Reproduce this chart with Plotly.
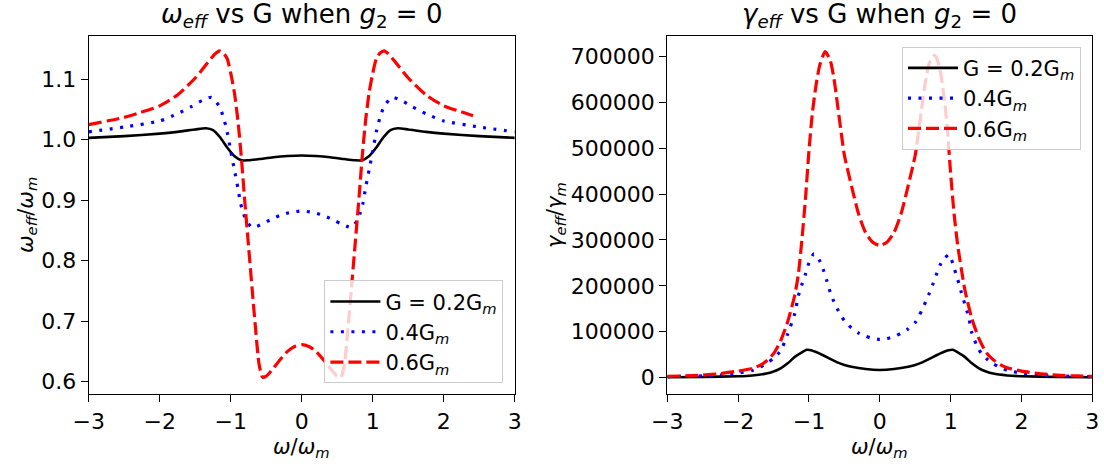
import plotly.graph_objects as go

# ---------------- left panel: omega_eff / omega_m ----------------
x_w_black = [-3.0, -2.5, -2.0, -1.75, -1.5, -1.35, -1.25, -1.15, -1.05, -0.95, -0.85, -0.75,
             -0.6, -0.4, -0.2, 0.0, 0.2, 0.4, 0.6, 0.75, 0.85, 0.95, 1.05, 1.15, 1.25, 1.35,
             1.5, 1.75, 2.0, 2.5, 3.0]
w_black = [1.003, 1.006, 1.010, 1.013, 1.017, 1.019, 1.016, 1.004, 0.987, 0.973, 0.966, 0.966,
           0.968, 0.971, 0.973, 0.974, 0.973, 0.971, 0.968, 0.966, 0.966, 0.973, 0.987, 1.004,
           1.016, 1.019, 1.017, 1.013, 1.010, 1.006, 1.003]

x_w_blue = [-3.0, -2.5, -2.0, -1.75, -1.55, -1.4, -1.27, -1.16, -1.1, -1.05, -1.0, -0.95, -0.9,
            -0.86, -0.82, -0.78, -0.7, -0.63, -0.55, -0.45, -0.3, -0.15, 0.0, 0.15, 0.3, 0.45,
            0.55, 0.63, 0.7, 0.78, 0.82, 0.86, 0.9, 0.95, 1.0, 1.05, 1.1, 1.16, 1.27, 1.4, 1.55,
            1.75, 2.0, 2.5, 3.0]
w_blue = [1.013, 1.021, 1.031, 1.043, 1.055, 1.065, 1.070, 1.055, 1.036, 1.013, 0.981, 0.951,
          0.921, 0.894, 0.878, 0.866, 0.855, 0.857, 0.861, 0.867, 0.875, 0.880, 0.882, 0.880,
          0.875, 0.867, 0.861, 0.857, 0.855, 0.866, 0.878, 0.894, 0.921, 0.951, 0.981, 1.013,
          1.036, 1.055, 1.070, 1.065, 1.055, 1.043, 1.031, 1.021, 1.013]

x_w_red = [-3.0, -2.5, -2.3, -2.0, -1.75, -1.5, -1.28, -1.22, -1.16, -1.1, -1.05, -1.0, -0.95,
           -0.9, -0.85, -0.8, -0.75, -0.7, -0.65, -0.6, -0.55, -0.5, -0.4, -0.3, -0.2, -0.1, 0.0,
           0.1, 0.2, 0.3, 0.4, 0.5, 0.55, 0.6, 0.65, 0.7, 0.75, 0.8, 0.85, 0.9, 0.95, 1.0, 1.05,
           1.1, 1.16, 1.22, 1.28, 1.5, 1.75, 2.0, 2.3, 2.48]
w_red = [1.025, 1.037, 1.044, 1.056, 1.074, 1.102, 1.134, 1.142, 1.147, 1.143, 1.134, 1.110,
         1.079, 1.033, 0.970, 0.895, 0.825, 0.755, 0.687, 0.628, 0.607, 0.609, 0.622, 0.637,
         0.650, 0.658, 0.661, 0.658, 0.650, 0.637, 0.622, 0.609, 0.607, 0.628, 0.687, 0.755,
         0.825, 0.895, 0.970, 1.033, 1.079, 1.110, 1.134, 1.143, 1.147, 1.142, 1.134, 1.102,
         1.074, 1.056, 1.044, 1.037]

# ---------------- right panel: gamma_eff / gamma_m ----------------
x_g_black = [-3.0, -2.5, -2.0, -1.8, -1.6, -1.5, -1.4, -1.3, -1.2, -1.1, -1.03, -0.97, -0.9,
             -0.8, -0.7, -0.6, -0.5, -0.4, -0.2, 0.0, 0.2, 0.4, 0.5, 0.6, 0.7, 0.8, 0.9, 0.97,
             1.03, 1.1, 1.2, 1.3, 1.4, 1.5, 1.6, 1.8, 2.0, 2.5, 3.0]
g_black = [600, 1200, 2700, 4500, 8500, 13000, 20000, 31000, 45000, 55000, 60500, 59500, 55500,
           48500, 40500, 33000, 27500, 23500, 18500, 16500, 18500, 23500, 27500, 33000, 40500,
           48500, 55500, 59500, 60500, 55000, 45000, 31000, 20000, 13000, 8500, 4500, 2700,
           1200, 600]

x_g_blue = [-3.0, -2.75, -2.5, -2.25, -2.0, -1.8, -1.7, -1.6, -1.5, -1.4, -1.3, -1.2, -1.15,
            -1.1, -1.05, -1.0, -0.93, -0.85, -0.8, -0.75, -0.7, -0.65, -0.6, -0.55, -0.5, -0.4,
            -0.3, -0.2, -0.1, 0.0, 0.1, 0.2, 0.3, 0.4, 0.5, 0.55, 0.6, 0.65, 0.7, 0.75, 0.8,
            0.85, 0.9, 0.98, 1.05, 1.1, 1.15, 1.2, 1.25, 1.3, 1.4, 1.5, 1.6, 1.7, 1.8, 2.0,
            2.25, 2.5, 2.75, 3.0]
g_blue = [1800, 2500, 3500, 5500, 9500, 15500, 22000, 30000, 42000, 58000, 95000, 140000,
          178000, 203000, 225000, 250000, 270000, 255000, 236000, 212000, 186000, 166000,
          150000, 136000, 124000, 108000, 97000, 90000, 85000, 83000, 85000, 89000, 97000,
          106000, 120000, 133000, 149000, 166000, 184000, 204000, 225000, 245000, 258000,
          268000, 238000, 214000, 186000, 160000, 135000, 97000, 60000, 42000, 30000, 22000,
          15500, 9500, 5500, 3500, 2500, 1800]

x_g_red = [-3.0, -2.75, -2.5, -2.25, -2.0, -1.8, -1.7, -1.6, -1.5, -1.4, -1.3, -1.2, -1.15,
           -1.1, -1.05, -1.0, -0.95, -0.9, -0.85, -0.8, -0.77, -0.7, -0.65, -0.6, -0.55, -0.5,
           -0.4, -0.3, -0.2, -0.1, 0.0, 0.1, 0.2, 0.3, 0.4, 0.5, 0.55, 0.6, 0.65, 0.7, 0.77,
           0.8, 0.85, 0.9, 0.95, 1.0, 1.05, 1.1, 1.15, 1.2, 1.3, 1.4, 1.5, 1.6, 1.7, 1.8, 2.0,
           2.25, 2.5, 2.75, 3.0]
g_red = [2500, 3500, 5200, 8500, 14000, 20000, 26000, 36000, 52000, 80000, 122000, 180000,
         225000, 300000, 389000, 495000, 580000, 638000, 680000, 703000, 711000, 692000, 655000,
         599000, 540000, 485000, 418000, 357000, 316000, 295000, 288000, 295000, 316000, 357000,
         418000, 485000, 540000, 597000, 650000, 686000, 703000, 698000, 672000, 620000, 550000,
         445000, 355000, 288000, 238000, 192000, 128000, 85000, 55000, 39000, 28000, 21000,
         14000, 8500, 5200, 3500, 2500]

legend_labels = ["G = 0.2G<sub><i>m</i></sub>", "0.4G<sub><i>m</i></sub>", "0.6G<sub><i>m</i></sub>"]
x_ticks = [-3, -2, -1, 0, 1, 2, 3]
w_ticks = [0.6, 0.7, 0.8, 0.9, 1.0, 1.1]
g_ticks = [0, 100000, 200000, 300000, 400000, 500000, 600000, 700000]

# ---------------- figure ----------------
W, H = 1104, 468
FONT = "DejaVu Sans"
FS = 21
FS_TICK = 22

styles = [
    dict(color="#000000", width=2.6, dash="solid"),
    dict(color="#0000ff", width=3.2, dash="3px,7.5px"),
    dict(color="#ff0000", width=3.2, dash="13px,5px"),
]

fig = go.Figure()

left_sets = [(x_w_black, w_black), (x_w_blue, w_blue), (x_w_red, w_red)]
right_sets = [(x_g_black, g_black), (x_g_blue, g_blue), (x_g_red, g_red)]

for (xs, ys), st, lab in zip(left_sets, styles, legend_labels):
    fig.add_trace(go.Scatter(x=xs, y=ys, mode="lines", name=lab,
                             line=dict(color=st["color"], width=st["width"], dash=st["dash"],
                                       shape="spline", smoothing=0.6),
                             xaxis="x", yaxis="y", legend="legend"))

for (xs, ys), st, lab in zip(right_sets, styles, legend_labels):
    fig.add_trace(go.Scatter(x=xs, y=ys, mode="lines", name=lab,
                             line=dict(color=st["color"], width=st["width"], dash=st["dash"],
                                       shape="spline", smoothing=0.6),
                             xaxis="x2", yaxis="y2", legend="legend2"))

axis_common = dict(showline=True, linecolor="black", linewidth=1.3, mirror=True,
                   ticks="outside", ticklen=7, tickwidth=1.3, tickcolor="black",
                   showgrid=False, zeroline=False, automargin=False,
                   tickfont=dict(family=FONT, size=FS_TICK, color="black"))

left_dom = [88.7 / W, 514.8 / W]
right_dom = [667.3 / W, 1092.3 / W]
y_dom = [1 - 394 / H, 1 - 36 / H]

legend_common = dict(bgcolor="rgba(255,255,255,0.8)", bordercolor="#cccccc", borderwidth=1,
                     font=dict(family=FONT, size=FS, color="black"), itemwidth=50,
                     tracegroupgap=0)

fig.update_layout(
    width=W, height=H,
    margin=dict(l=0, r=0, t=0, b=0, autoexpand=False),
    paper_bgcolor="white", plot_bgcolor="white",
    font=dict(family=FONT, size=FS, color="black"),
    xaxis=dict(domain=left_dom, range=[-3, 3], tickvals=x_ticks, anchor="y", **axis_common),
    yaxis=dict(domain=y_dom, range=[0.5795, 1.1715], tickvals=w_ticks, tickformat=".1f",
               anchor="x", **axis_common),
    xaxis2=dict(domain=right_dom, range=[-3, 3], tickvals=x_ticks, anchor="y2", **axis_common),
    yaxis2=dict(domain=y_dom, range=[-36000, 745000], tickvals=g_ticks, tickformat="d",
                anchor="x2", **axis_common),
    legend=dict(x=503.4 / W, xanchor="right", y=1 - 383.3 / H, yanchor="bottom",
                **legend_common),
    legend2=dict(x=1081 / W, xanchor="right", y=1 - 46.7 / H, yanchor="top",
                 **legend_common),
    showlegend=True,
)

titles = [
    ("<i>ω</i><sub><i>eff</i></sub> vs G when <i>g</i><sub>2</sub> = 0", sum(left_dom) / 2),
    ("<i>γ</i><sub><i>eff</i></sub> vs G when <i>g</i><sub>2</sub> = 0", sum(right_dom) / 2),
]
for txt, xc in titles:
    fig.add_annotation(text=txt, x=xc, y=1 - 16 / H, xref="paper", yref="paper",
                       xanchor="center", yanchor="middle", showarrow=False,
                       font=dict(family=FONT, size=26, color="black"))

for xc in (sum(left_dom) / 2, sum(right_dom) / 2):
    fig.add_annotation(text="<i>ω</i>/<i>ω</i><sub><i>m</i></sub>", x=xc, y=1 - 448 / H,
                       xref="paper", yref="paper", xanchor="center", yanchor="middle",
                       showarrow=False, font=dict(family=FONT, size=FS, color="black"))

fig.add_annotation(text="<i>ω</i><sub><i>eff</i></sub>/<i>ω</i><sub><i>m</i></sub>",
                   x=27 / W, y=sum(y_dom) / 2, xref="paper", yref="paper", textangle=-90,
                   xanchor="center", yanchor="middle", showarrow=False,
                   font=dict(family=FONT, size=FS, color="black"))
fig.add_annotation(text="<i>γ</i><sub><i>eff</i></sub>/<i>γ</i><sub><i>m</i></sub>",
                   x=556 / W, y=sum(y_dom) / 2, xref="paper", yref="paper", textangle=-90,
                   xanchor="center", yanchor="middle", showarrow=False,
                   font=dict(family=FONT, size=FS, color="black"))

fig.write_html("out.html", config={"displayModeBar": False},
               post_script="document.body.style.margin='0';document.body.style.overflow='hidden';")
